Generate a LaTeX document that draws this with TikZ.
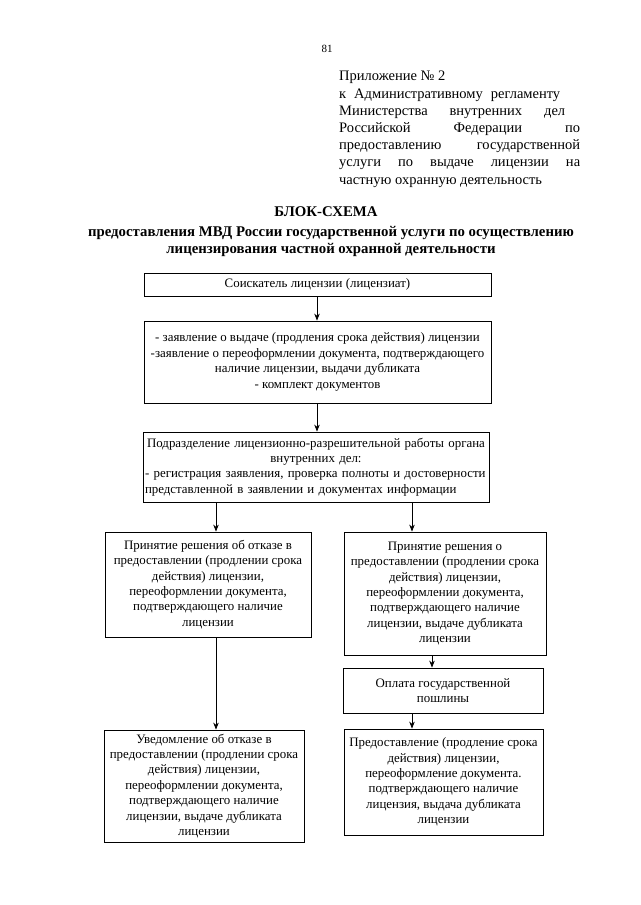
\documentclass[tikz,border=0pt]{standalone}
\usepackage{fontspec}
\setmainfont{Liberation Serif}
\usetikzlibrary{arrows.meta}
\begin{document}
\begin{tikzpicture}[x=1pt,y=-1pt,
  box/.style={draw, line width=0.8pt, inner sep=2pt, align=center,
    font=\fontsize{12.9}{15.4}\selectfont},
  arr/.style={-{Stealth[length=7pt,width=5.5pt]}, line width=0.8pt},
  hdr/.style={inner sep=0pt, font=\fontsize{14.5}{17.2}\selectfont},
  ttl/.style={inner sep=0pt, align=center, font=\fontsize{14.8}{17.2}\selectfont\bfseries}]
\useasboundingbox (0,0) rectangle (640,905);
\fill[white] (0,0) rectangle (640,905);

% page number
\node[inner sep=0pt, font=\fontsize{11}{13}\selectfont] (pg) at (327,49) {81};

% appendix header
\node[hdr, anchor=base west, align=left] (app) at (339,184) {%
Приложение № 2\\
\makebox[221pt][s]{к\hfill Административному\hfill регламенту}\\
\makebox[226pt][s]{Министерства\hfill внутренних\hfill дел}\\
\makebox[241pt][s]{Российской\hfill Федерации\hfill по}\\
\makebox[241pt][s]{предоставлению\hfill государственной}\\
\makebox[241pt][s]{услуги\hfill по\hfill выдаче\hfill лицензии\hfill на}\\
частную охранную деятельность};

% title
\node[ttl] (title) at (326,212) {БЛОК-СХЕМА};
\node[ttl] (subtitle) at (331,241.5) {предоставления МВД России государственной услуги по осуществлению\\
лицензирования частной охранной деятельности};

% boxes
\node[box, minimum width=347, minimum height=23] (b1) at (317.5,284.5)
  {Соискатель лицензии (лицензиат)};
\node[box, minimum width=347, minimum height=82] (b2) at (317.5,362)
  {- заявление о выдаче (продления срока действия) лицензии\\
   -заявление о переоформлении документа, подтверждающего\\
   наличие лицензии, выдачи дубликата\\
   - комплект документов};
\node[box, minimum width=346, minimum height=70, align=left, text width=342pt] (b3) at (316,467)
  {\makebox[342pt]{Подразделение лицензионно-разрешительной работы органа}\\
   \makebox[342pt]{внутренних дел:}\\
   - регистрация заявления, проверка полноты и достоверности\\
   представленной в заявлении и документах информации};
\node[box, minimum width=206, minimum height=105] (b4) at (208,584.5)
  {Принятие решения об отказе в\\
   предоставлении (продлении срока\\
   действия) лицензии,\\
   переоформлении документа,\\
   подтверждающего наличие\\
   лицензии};
\node[box, minimum width=202, minimum height=123] (b5) at (445,593.5)
  {Принятие решения о\\
   предоставлении (продлении срока\\
   действия) лицензии,\\
   переоформлении документа,\\
   подтверждающего наличие\\
   лицензии, выдаче дубликата\\
   лицензии};
\node[box, minimum width=200, minimum height=45] (b7) at (443,690.5)
  {Оплата государственной\\
   пошлины};
\node[box, minimum width=199, minimum height=106] (b8) at (443.5,782)
  {Предоставление (продление срока\\
   действия) лицензии,\\
   переоформление документа.\\
   подтверждающего наличие\\
   лицензия, выдача дубликата\\
   лицензии};
\node[box, minimum width=200, minimum height=112] (b6) at (204,786)
  {Уведомление об отказе в\\
   предоставлении (продлении срока\\
   действия) лицензии,\\
   переоформлении документа,\\
   подтверждающего наличие\\
   лицензии, выдаче дубликата\\
   лицензии};

% arrow columns
\coordinate (xa) at (317,0);
\coordinate (xl) at (216,0);
\coordinate (xr) at (412,0);
\coordinate (xp) at (432,0);

\draw[arr] (b1.south -| xa) -- (b2.north -| xa);
\draw[arr] (b2.south -| xa) -- (b3.north -| xa);
\draw[arr] (b3.south -| xl) -- (b4.north -| xl);
\draw[arr] (b3.south -| xr) -- (b5.north -| xr);
\draw[arr] (b4.south -| xl) -- (b6.north -| xl);
\draw[arr] (b5.south -| xp) -- (b7.north -| xp);
\draw[arr] (b7.south -| xr) -- (b8.north -| xr);
\end{tikzpicture}
\end{document}
